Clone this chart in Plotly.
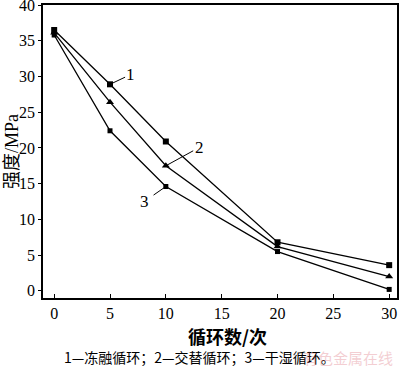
import plotly.graph_objects as go

cycles = [0, 5, 10, 20, 30]
s1_freeze_thaw = [36.5, 28.9, 20.9, 6.8, 3.6]
s2_alternate = [36.1, 26.4, 17.5, 6.2, 2.0]
s3_wet_dry = [35.8, 22.4, 14.6, 5.5, 0.2]

x_ticks = [0, 5, 10, 15, 20, 25, 30]
y_ticks = [0, 5, 10, 15, 20, 25, 30, 35, 40]

# curve labels and their leader lines (data coordinates)
label_text = ["1", "2", "3"]
label_xy = [(6.85, 30.3), (13.0, 20.1), (8.1, 12.5)]
leader_from = [(5, 28.9), (10, 17.5), (10, 14.6)]
leader_to = [(6.35, 29.9), (12.45, 19.6), (8.9, 13.4)]

serif = "Liberation Serif"
cjk = "Noto Sans CJK SC"

W, H = 400, 366
L, R, T, B = 43, 3, 5, 68
pw, ph = W - L - R, H - T - B


def px(x):
    return (x - L) / pw


def py(y):
    return (H - B - y) / ph


fig = go.Figure()
line = dict(color="black", width=1.3)
fig.add_trace(go.Scatter(x=cycles, y=s1_freeze_thaw, mode="lines+markers", line=line,
                         marker=dict(symbol="square", size=6, color="black")))
fig.add_trace(go.Scatter(x=cycles, y=s2_alternate, mode="lines+markers", line=line,
                         marker=dict(symbol="triangle-up", size=7, color="black")))
fig.add_trace(go.Scatter(x=cycles, y=s3_wet_dry, mode="lines+markers", line=line,
                         marker=dict(symbol="square", size=5, color="black")))

for (x0, y0), (x1, y1) in zip(leader_from, leader_to):
    fig.add_shape(type="line", x0=x0, y0=y0, x1=x1, y1=y1, xref="x", yref="y",
                  line=dict(color="black", width=1))
for t, (lx, ly) in zip(label_text, label_xy):
    fig.add_annotation(x=lx, y=ly, text=t, showarrow=False, xref="x", yref="y",
                       font=dict(family=serif, size=17, color="black"))

axis_common = dict(tickwidth=1, tickcolor="black", showline=True, linecolor="black",
                   linewidth=1.5, mirror=True, showgrid=False, zeroline=False,
                   automargin=False, ticklabeloverflow="allow",
                   tickfont=dict(family=serif, size=16, color="black"))

fig.update_layout(
    template="none",
    width=W, height=H,
    margin=dict(l=L, r=R, t=T, b=B, pad=0),
    paper_bgcolor="white", plot_bgcolor="white",
    showlegend=False,
    font=dict(family=serif, size=16, color="black"),
    xaxis=dict(range=[-1, 30.7], tickvals=x_ticks, ticks="inside", ticklen=4, **axis_common),
    yaxis=dict(range=[-1, 40], tickvals=y_ticks, ticks="outside", ticklen=3, **axis_common),
)

# axis titles, caption, watermark
fig.add_annotation(x=px(12), y=py(152), xref="paper", yref="paper", text="强度/MPa",
                   textangle=-90, showarrow=False, xanchor="center", yanchor="middle",
                   font=dict(family=serif + ", " + cjk, size=18, color="black"))
fig.add_annotation(x=px(227), y=py(336), xref="paper", yref="paper", text="<b>循环数/次</b>",
                   showarrow=False, xanchor="center", yanchor="middle",
                   font=dict(family=cjk, size=18, color="black"))
fig.add_annotation(x=px(199), y=py(357), xref="paper", yref="paper",
                   text="1—冻融循环；2—交替循环；3—干湿循环。",
                   showarrow=False, xanchor="center", yanchor="middle",
                   font=dict(family=cjk, size=14, color="black"))
fig.add_annotation(x=px(348), y=py(357), xref="paper", yref="paper",
                   text="有色金属在线", showarrow=False, opacity=0.25,
                   xanchor="center", yanchor="middle",
                   font=dict(family=cjk, size=15, color="#d04050"))

fig.write_html("out.html", config={"displayModeBar": False},
               post_script="document.body.style.margin='0px';document.body.style.overflow='hidden';")
